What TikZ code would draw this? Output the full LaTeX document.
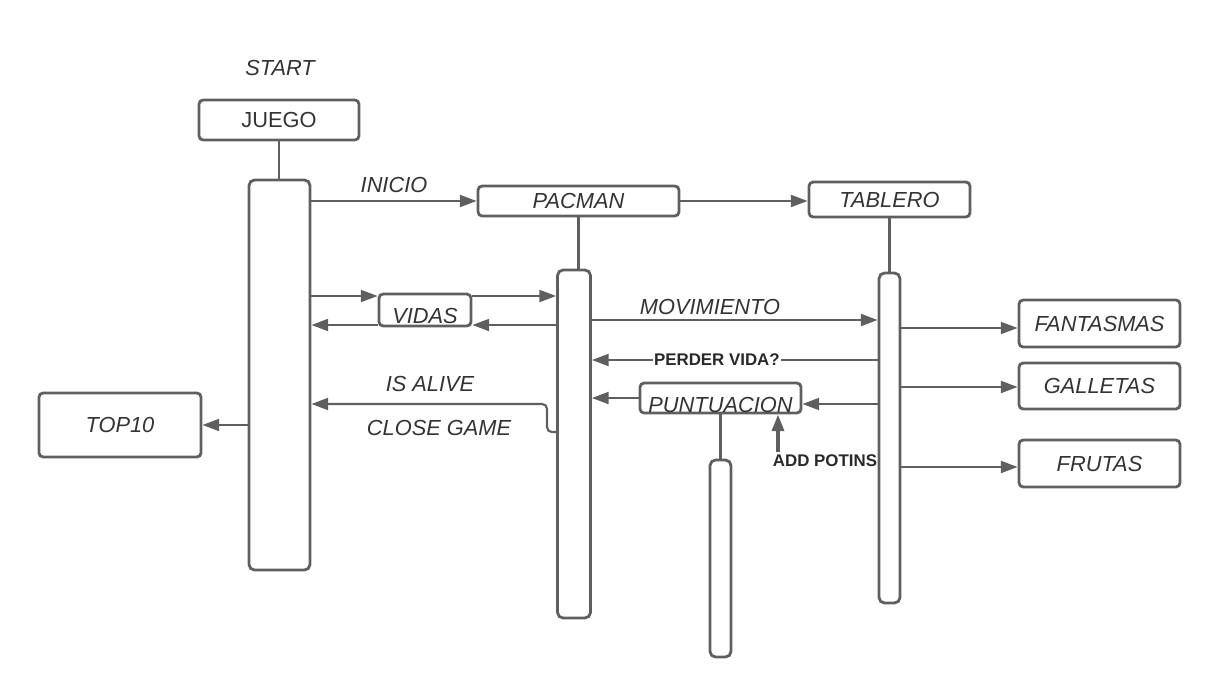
\documentclass[tikz,border=0pt]{standalone}
\usepackage{fontspec}
\setmainfont{Liberation Sans}
\usetikzlibrary{arrows.meta}
\definecolor{linegray}{HTML}{5F5F5F}
\definecolor{textgray}{HTML}{333333}
\tikzstyle{roundbox}=[draw=linegray,line width=2pt,rounded corners=3pt,inner sep=0pt,text=textgray,font=\fontsize{15.5}{18}\selectfont\itshape]
\tikzstyle{lifebar}=[draw=linegray,line width=2pt,rounded corners=4pt,inner sep=0pt]
\tikzstyle{stem}=[draw=linegray,line width=2pt]
\tikzstyle{msgarrow}=[-{Triangle[length=0.42cm,width=0.3cm]},draw=linegray,line width=1.5pt]
\tikzstyle{itlabel}=[text=textgray,font=\fontsize{15.5}{18}\selectfont\itshape]
\tikzstyle{boldlabel}=[text=textgray!80!black,font=\fontsize{12}{14}\selectfont\bfseries,inner sep=1pt]

\begin{document}
\begin{tikzpicture}[x=0.025cm,y=-0.025cm]
  \useasboundingbox (0,0) rectangle (1220,697);
  % objects
  \node[itlabel] at (280,68) {START};
  \node[roundbox,minimum width=4cm,minimum height=1cm,font=\fontsize{15.5}{18}\selectfont\upshape] (juego) at (279,120) {JUEGO};
  \node[roundbox,minimum width=5.025cm,minimum height=0.75cm] (pacman) at (578.5,201) {PACMAN};
  \node[roundbox,minimum width=4.025cm,minimum height=0.875cm] (tablero) at (889.5,199.5) {TABLERO};
  \node[roundbox,minimum width=4.05cm,minimum height=1.6cm] (top10) at (120,425) {TOP10};
  \node[roundbox,minimum width=4.025cm,minimum height=1.175cm] (fantasmas) at (1099.5,323.5) {FANTASMAS};
  \node[roundbox,minimum width=4.025cm,minimum height=1.15cm] (galletas) at (1099.5,386) {GALLETAS};
  \node[roundbox,minimum width=4.025cm,minimum height=1.175cm] (frutas) at (1099.5,463.5) {FRUTAS};
  \node[roundbox,minimum width=2.3cm,minimum height=0.8cm] (vidas) at (425,310) {};
  \node[itlabel] at (425,316) {VIDAS};
  \node[roundbox,minimum width=4.025cm,minimum height=0.75cm] (puntuacion) at (720.5,398) {};
  \node[itlabel] at (720.5,405) {PUNTUACION};
  % activation bars
  \node[lifebar,minimum width=1.525cm,minimum height=9.75cm] (act1) at (279.5,375) {};
  \node[lifebar,minimum width=0.825cm,minimum height=8.7cm] (act2) at (574,444) {};
  \node[lifebar,minimum width=0.525cm,minimum height=8.25cm] (act3) at (889.5,438) {};
  \node[lifebar,minimum width=0.525cm,minimum height=4.925cm] (act4) at (720.5,558.5) {};
  \draw[stem] (juego.south) -- (juego.south |- act1.north);
  \draw[stem] (pacman.south) -- (pacman.south |- act2.north);
  \draw[stem] (tablero.south) -- (tablero.south |- act3.north);
  \draw[stem] (puntuacion.south -| act4.north) -- (act4.north);
  % messages
  \draw[msgarrow] (act1.east |- pacman.west) -- node[itlabel,above=2pt] {INICIO} (pacman.west);
  \draw[msgarrow] (pacman.east) -- (tablero.west |- pacman.east);
  \draw[msgarrow] (act1.east |- 0,296) -- (vidas.west |- 0,296);
  \draw[msgarrow] (vidas.east |- 0,296) -- (act2.west |- 0,296);
  \draw[msgarrow] (act2.west |- 0,325) -- (vidas.east |- 0,325);
  \draw[msgarrow] (vidas.west |- 0,325) -- (act1.east |- 0,325);
  \draw[msgarrow] (act2.east |- 0,320) -- (act3.west |- 0,320);
  \node[itlabel] at (710,307) {MOVIMIENTO};
  \draw[msgarrow] (act3.west |- 0,360) -- node[boldlabel,fill=white,pos=0.5625] {PERDER VIDA?} (act2.east |- 0,360);
  \draw[msgarrow] (puntuacion.west) -- (act2.east |- puntuacion.west);
  \draw[msgarrow] (act3.west |- 0,404) -- (puntuacion.east |- 0,404);
  \draw[msgarrow,rounded corners=0.12cm] (act2.west |- 0,432) -- (547,432) -- (547,404) -- (act1.east |- 0,404);
  \node[itlabel] at (430,384) {IS ALIVE};
  \node[itlabel] at (439,428) {CLOSE GAME};
  \draw[msgarrow] (act1.west |- top10.east) -- (top10.east);
  \node[boldlabel] (addpts) at (825,461) {ADD POTINS};
  \coordinate (addtail) at (778,452);
  \draw[msgarrow,line width=2.5pt] (addtail) -- (puntuacion.south -| addtail);
  % tablero children
  \draw[msgarrow] (act3.east |- 0,328) -- (fantasmas.west |- 0,328);
  \draw[msgarrow] (act3.east |- 0,387) -- (galletas.west |- 0,387);
  \draw[msgarrow] (act3.east |- 0,467) -- (frutas.west |- 0,467);
\end{tikzpicture}
\end{document}
